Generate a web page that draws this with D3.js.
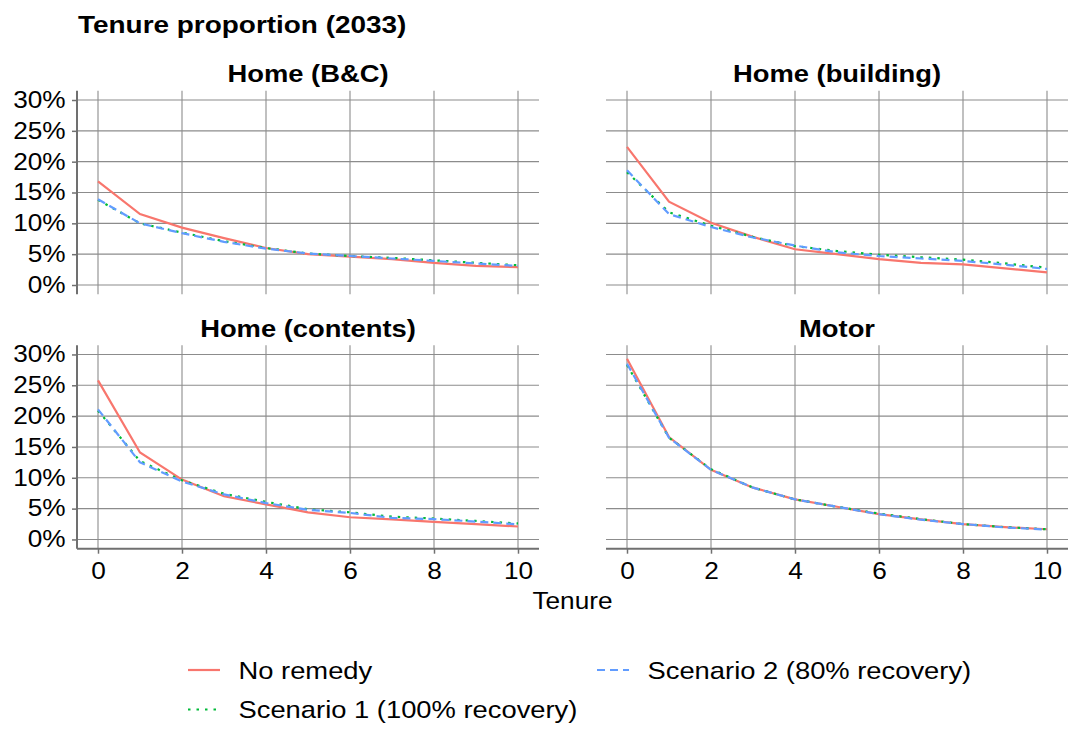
<!DOCTYPE html>
<html>
<head>
<meta charset="utf-8">
<script src="https://cdn.jsdelivr.net/npm/d3@7"></script>
<style>
	body { margin: 0; background: #fff; }
	svg text { font-family: "Liberation Sans", Arial, Helvetica, sans-serif; fill: #000; }
</style>
</head>
<body>
<div id="chart"></div>
<script>

// Data (values in %)
var tenure = [0, 1, 2, 3, 4, 5, 6, 7, 8, 9, 10];
var scenarios = ["No remedy", "Scenario 1 (100% recovery)", "Scenario 2 (80% recovery)"];
var products = ["Home (B&C)", "Home (building)", "Home (contents)", "Motor"];

var bcNoRemedy = [16.8, 11.5, 9.3, 7.6, 6.0, 5.0, 4.6, 4.2, 3.6, 3.1, 2.9];
var bcScen1 = [13.8, 10.0, 8.5, 7.1, 6.0, 5.1, 4.7, 4.4, 4.0, 3.6, 3.2];
var bcScen2 = [13.9, 10.0, 8.4, 7.0, 5.9, 5.1, 4.7, 4.3, 3.9, 3.5, 3.1];

var buildNoRemedy = [22.4, 13.5, 10.1, 7.8, 5.8, 5.0, 4.2, 3.6, 3.35, 2.7, 2.05];
var buildScen1 = [18.3, 11.8, 9.6, 7.8, 6.3, 5.5, 4.9, 4.5, 4.1, 3.5, 2.8];
var buildScen2 = [18.6, 11.5, 9.4, 7.7, 6.4, 5.3, 4.7, 4.3, 3.9, 3.3, 2.6];

var contNoRemedy = [25.8, 14.1, 9.7, 7.0, 5.7, 4.4, 3.6, 3.25, 2.85, 2.5, 2.1];
var contScen1 = [20.9, 12.7, 9.6, 7.4, 6.1, 4.9, 4.4, 3.7, 3.4, 3.0, 2.6];
var contScen2 = [21.1, 12.5, 9.4, 7.3, 5.9, 4.8, 4.3, 3.5, 3.3, 2.9, 2.45];

var motorNoRemedy = [29.3, 16.6, 11.3, 8.4, 6.5, 5.3, 4.1, 3.25, 2.5, 2.0, 1.65];
var motorScen1 = [28.3, 16.5, 11.4, 8.4, 6.5, 5.3, 4.2, 3.3, 2.5, 2.0, 1.65];
var motorScen2 = [28.5, 16.5, 11.3, 8.4, 6.5, 5.3, 4.1, 3.2, 2.5, 1.95, 1.6];

var xTicks = [0, 2, 4, 6, 8, 10];
var yTicks = [0, 5, 10, 15, 20, 25, 30];

var seriesByProduct = [
	[bcNoRemedy, bcScen1, bcScen2],
	[buildNoRemedy, buildScen1, buildScen2],
	[contNoRemedy, contScen1, contScen2],
	[motorNoRemedy, motorScen1, motorScen2]
];

//
// Setup
//
var width = 1073, height = 729;
var SX = 1.14; // horizontal stretch of the text
var colors = ["#F8766D", "#00BA38", "#619CFF"];
var dashes = [null, "2.5,6", "8,5"];
var gridColor = "#8c8c8c", axisColor = "#707070";

var colX = [[77, 539], [606, 1068]];
var rowY = [[90.75, 294.25], [345.2, 548.7]];

var svg = d3.select("#chart").append("svg")
	.attr("width", width)
	.attr("height", height);

// main title
svg.append("g")
	.attr("transform", "translate(78,33.3)")
	.append("text")
	.attr("transform", "scale(" + SX + ",1)")
	.style("font-size", "24.5px")
	.style("font-weight", "bold")
	.text("Tenure proportion (2033)");

products.forEach(function(title, p) {
	var col = p % 2, row = Math.floor(p / 2);
	var x = d3.scaleLinear().domain([-0.5, 10.5]).range(colX[col]);
	var y = d3.scaleLinear().domain([-1.5, 31.5]).range([rowY[row][1], rowY[row][0]]);

	var g = svg.append("g").attr("class", "panel");

	// gridlines
	g.selectAll(".hgrid").data(yTicks).enter().append("line")
		.attr("x1", colX[col][0]).attr("x2", colX[col][1])
		.attr("y1", function(d) { return y(d); })
		.attr("y2", function(d) { return y(d); })
		.attr("stroke", gridColor).attr("stroke-width", 1.1);
	g.selectAll(".vgrid").data(xTicks).enter().append("line")
		.attr("y1", rowY[row][0]).attr("y2", rowY[row][1])
		.attr("x1", function(d) { return x(d); })
		.attr("x2", function(d) { return x(d); })
		.attr("stroke", gridColor).attr("stroke-width", 1.1);

	// panel title
	g.append("g")
		.attr("transform", "translate(" + ((colX[col][0] + colX[col][1]) / 2) + "," + (rowY[row][0] - 8.7) + ")")
		.append("text")
		.attr("transform", "scale(" + SX + ",1)")
		.attr("text-anchor", "middle")
		.style("font-size", "24px")
		.style("font-weight", "bold")
		.text(title);

	// lines
	var line = d3.line()
		.x(function(d, i) { return x(tenure[i]); })
		.y(function(d) { return y(d); });

	seriesByProduct[p].forEach(function(values, s) {
		g.append("path")
			.datum(values)
			.attr("fill", "none")
			.attr("stroke", colors[s])
			.attr("stroke-width", 2.2)
			.attr("stroke-dasharray", dashes[s])
			.attr("d", line);
	});

	// Y-axis (left column only)
	if (col == 0) {
		var yAxis = d3.axisLeft(y).tickValues(yTicks)
			.tickFormat(function(d) { return d + "%"; })
			.tickSize(5).tickPadding(5);
		var ya = g.append("g")
			.attr("transform", "translate(" + colX[col][0] + ",0)")
			.call(yAxis);
		ya.select(".domain").remove();
		ya.selectAll(".tick line").attr("stroke", axisColor).attr("stroke-width", 1.5);
		ya.selectAll("text")
			.attr("transform", "scale(" + SX + ",1)")
			.style("font-size", "23px")
			.attr("fill", "#000");
		g.append("line")
			.attr("x1", colX[col][0]).attr("x2", colX[col][0])
			.attr("y1", rowY[row][0]).attr("y2", rowY[row][1])
			.attr("stroke", axisColor).attr("stroke-width", 2);
	}

	// X-axis (bottom row only)
	if (row == 1) {
		var xAxis = d3.axisBottom(x).tickValues(xTicks)
			.tickSize(5).tickPadding(9);
		var xa = g.append("g")
			.attr("transform", "translate(0," + rowY[row][1] + ")")
			.call(xAxis);
		xa.select(".domain").remove();
		xa.selectAll(".tick line").attr("stroke", axisColor).attr("stroke-width", 1.5);
		xa.selectAll("text")
			.attr("transform", "scale(" + SX + ",1)")
			.style("font-size", "23px")
			.attr("fill", "#000");
		g.append("line")
			.attr("x1", colX[col][0]).attr("x2", colX[col][1])
			.attr("y1", rowY[row][1]).attr("y2", rowY[row][1])
			.attr("stroke", axisColor).attr("stroke-width", 2);
	}
});

// X-axis title
svg.append("g")
	.attr("transform", "translate(572.5,609)")
	.append("text")
	.attr("transform", "scale(" + SX + ",1)")
	.attr("text-anchor", "middle")
	.style("font-size", "23px")
	.text("Tenure");

//
// Legend
//
var legendCols = [188, 597], legendRows = [670, 709.5];
var legendOrder = [[0, 0], [0, 1], [1, 0]]; // [col,row] per scenario

var legend = svg.selectAll(".legend-item")
	.data(scenarios)
	.enter()
	.append("g")
	.attr("class", "legend-item")
	.attr("transform", function(d, i) {
		return "translate(" + legendCols[legendOrder[i][0]] + "," + legendRows[legendOrder[i][1]] + ")";
	});

legend.append("line")
	.attr("x1", 0).attr("x2", 32)
	.attr("stroke", function(d, i) { return colors[i]; })
	.attr("stroke-width", 2.2)
	.attr("stroke-dasharray", function(d, i) { return dashes[i]; });

legend.append("g")
	.attr("transform", "translate(50.5,8.5)")
	.append("text")
	.attr("transform", "scale(" + SX + ",1)")
	.style("font-size", "24px")
	.text(function(d) { return d; });

</script>
</body>
</html>
